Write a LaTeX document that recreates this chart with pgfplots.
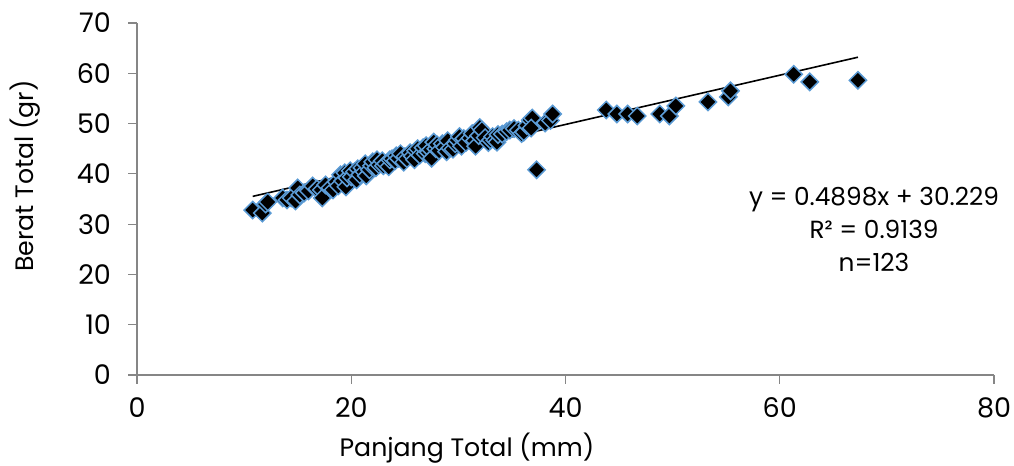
\documentclass[border=0pt]{standalone}
\usepackage{pgfplots}
\pgfplotsset{compat=1.18}
\usepackage{fontspec}
\setmainfont{Poppins}
\definecolor{mkblue}{HTML}{5B9BD5}
\definecolor{axgray}{HTML}{868686}
\pgfplotstableread{
x y
10.8 32.8
11.7 32.2
12.0 34.0
12.2 34.4
13.6 35.2
14.0 34.8
14.4 35.2
14.8 34.6
15.0 37.2
15.2 35.8
15.6 36.2
16.0 36.6
16.4 37.6
16.8 37.0
17.2 36.8
17.3 35.2
17.6 37.8
18.0 37.2
18.3 36.8
18.6 38.4
18.8 37.6
19.0 39.8
19.2 38.6
19.4 40.2
19.5 37.4
19.6 39.2
19.9 40.6
20.0 39.4
20.3 40.4
20.5 38.8
20.6 41.0
20.8 39.8
21.0 41.2
21.2 40.4
21.3 42.0
21.4 39.6
21.7 40.8
21.9 41.6
22.0 42.4
22.3 41.2
22.4 42.8
22.6 41.8
22.9 42.6
23.0 41.6
23.2 42.0
23.5 41.4
23.6 42.8
23.8 43.0
24.1 42.6
24.2 43.6
24.4 43.1
24.6 44.0
24.9 42.3
25.0 43.4
25.2 43.0
25.5 44.2
25.7 43.5
25.9 42.8
26.0 44.6
26.2 45.0
26.4 43.7
26.7 45.2
26.9 44.0
27.0 45.6
27.2 44.3
27.4 44.8
27.5 43.1
27.7 46.3
27.9 45.0
28.0 45.8
28.2 44.6
28.5 46.0
28.7 45.3
28.9 44.4
29.0 46.6
29.2 45.1
29.5 44.9
29.7 46.0
29.9 46.7
30.1 47.4
30.3 45.5
30.5 47.0
30.7 46.2
31.1 47.1
31.3 48.0
31.5 46.6
31.6 45.5
31.9 47.6
32.0 49.2
32.2 48.7
32.5 47.2
32.8 46.2
33.0 46.7
33.2 47.4
33.4 46.7
33.6 46.3
33.7 47.8
34.1 47.9
34.5 48.4
34.8 48.7
35.2 49.0
35.6 48.7
35.9 48.0
36.1 48.3
36.4 49.6
36.7 50.7
36.9 51.1
36.8 49.1
37.3 40.8
38.1 50.1
38.6 50.6
38.8 51.9
43.8 52.7
44.8 51.9
45.8 51.9
46.7 51.5
48.8 51.9
49.7 51.5
50.3 53.5
53.3 54.3
55.2 55.3
55.4 56.5
61.3 59.8
62.8 58.3
67.3 58.6
}\datatable
\begin{document}
\begin{tikzpicture}
\begin{axis}[
  width=428.5pt, height=176pt, scale only axis,
  xmin=0, xmax=80, ymin=0, ymax=70,
  xtick={0,20,...,80}, ytick={0,10,...,70},
  axis lines*=left,
  tick align=outside, major tick length=4.5pt,
  axis line style={axgray, line width=0.6pt},
  tick style={axgray, line width=0.6pt},
  tick label style={font=\fontsize{13.5}{15}\selectfont, black},
  yticklabel style={xshift=-5pt},
  xticklabel style={yshift=-3.5pt},
  /pgf/number format/assume math mode=true,
  clip=false,
  xlabel={Panjang Total (mm)},
  ylabel={Berat Total (gr)},
  label style={font=\fontsize{12.6}{15}\selectfont},
  xlabel style={at={(axis description cs:0.385,0)}, anchor=north, inner sep=0pt, yshift=-29pt},
  ylabel style={at={(axis description cs:0,0.565)}, anchor=center, inner sep=0pt, yshift=56pt},
]
\addplot[black, line width=0.8pt, no marks] coordinates {(10.8,35.519) (67.3,63.193)};
\addplot[only marks, mark=square*, mark size=3.05pt,
  mark options={rotate=45, fill=black, draw=mkblue, line width=0.75pt}] table[x=x,y=y] {\datatable};
\node[align=center, font=\fontsize{12.4}{16.5}\selectfont, inner sep=0pt] at (axis cs:68.8,29.0)
  {y = 0.4898x + 30.229\\R² = 0.9139\\n=123};
\end{axis}
\pgfresetboundingbox
\path ([shift={(-68.5pt,-45.5pt)}]current axis.south west) rectangle ([shift={(10pt,11.5pt)}]current axis.north east);
\end{tikzpicture}
\end{document}
